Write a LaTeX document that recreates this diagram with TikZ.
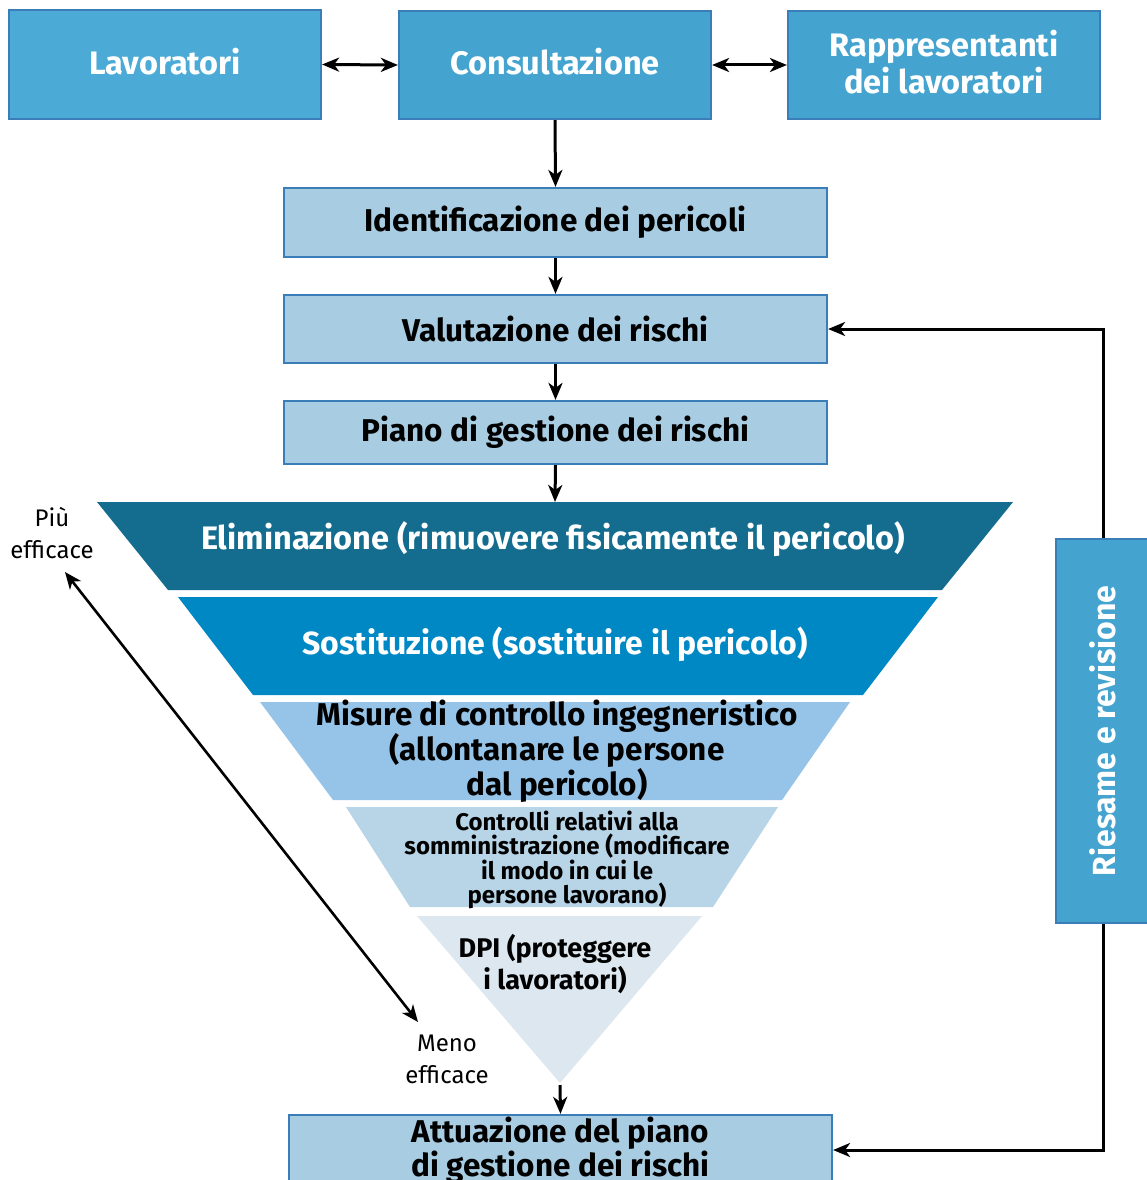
\documentclass[tikz,border=0pt]{standalone}
\usepackage{fontspec}
\setmainfont{Fira Sans}
\usetikzlibrary{arrows.meta,calc}

\definecolor{boxline}{HTML}{3B7DB8}
\definecolor{topfillA}{HTML}{4BABD6}
\definecolor{topfillB}{HTML}{45A4CF}
\definecolor{stepfill}{HTML}{A8CDE3}
\definecolor{lvlE}{HTML}{146D8F}
\definecolor{lvlS}{HTML}{0088C5}
\definecolor{lvlM}{HTML}{95C4E8}
\definecolor{lvlC}{HTML}{B8D5E8}
\definecolor{lvlD}{HTML}{DCE7EF}

\begin{document}
\begin{tikzpicture}[x=1pt,y=-1pt,
  topbox/.style={draw=boxline, line width=2.2pt, fill=topfillB, text=white,
    font=\fontsize{32.5}{37}\selectfont\bfseries, align=center, text depth=7pt,
    minimum width=312pt, minimum height=108pt, inner sep=0pt},
  stepbox/.style={draw=boxline, line width=2.2pt, fill=stepfill, text=black,
    font=\fontsize{31.5}{31}\selectfont\bfseries, align=center,
    minimum width=543pt, inner sep=0pt},
  lvltext/.style={align=center, inner sep=0pt},
  sidelabel/.style={align=center, inner sep=0pt, font=\fontsize{24}{32}\selectfont},
  tip/.tip={Stealth[length=17pt,width=14pt,inset=5pt]},
  conn/.style={line width=3pt, -tip},
  dconn/.style={line width=3pt, tip-tip}
]
\useasboundingbox (0,0) rectangle (1146,1180);
\fill[white] (0,0) rectangle (1146,1180);

% consultation row
\node[topbox, fill=topfillA, minimum height=109pt] (lav) at (165,64.5) {Lavoratori};
\node[topbox] (cons) at (555,65) {Consultazione};
\node[topbox] (rapp) at (944,65) {Rappresentanti\\dei lavoratori};

% process steps
\node[stepbox, minimum height=69pt] (ident) at (555.5,222.5) {Identificazione dei pericoli};
\node[stepbox, minimum height=68pt] (valut) at (555.5,329) {Valutazione dei rischi};
\node[stepbox, minimum height=63pt] (piano) at (555.5,432.5) {Piano di gestione dei rischi};
\node[stepbox, minimum height=70pt] (attua) at (560.5,1150) {Attuazione del piano\\di gestione dei rischi};

% hierarchy of controls (inverted pyramid)
\fill[lvlE] (97,502) -- (1013,502) -- (942,590) -- (168,590) -- cycle;
\fill[lvlS] (178,597) -- (938,597) -- (863,695) -- (253,695) -- cycle;
\fill[lvlM] (260,702) -- (850,702) -- (782,800) -- (333,800) -- cycle;
\fill[lvlC] (346,807) -- (778,807) -- (713,907) -- (410,907) -- cycle;
\fill[lvlD] (417,916) -- (702,916) -- (560,1083) -- cycle;
\coordinate (elimTop) at (555,502);
\coordinate (dpiTip) at (560,1085);

\node[lvltext, text=white, font=\fontsize{32.5}{31}\selectfont\bfseries] (elim) at (553,539)
  {Eliminazione (rimuovere fisicamente il pericolo)};
\node[lvltext, text=white, font=\fontsize{32}{31}\selectfont\bfseries] (sost) at (555,644)
  {Sostituzione (sostituire il pericolo)};
\node[lvltext, font=\fontsize{31.5}{31.5}\selectfont\bfseries] (misure) at (557,751)
  {Misure di controllo ingegneristico\\(allontanare le persone\\dal pericolo)};
\node[lvltext, font=\fontsize{24}{24.5}\selectfont\bfseries] (contr) at (567,860)
  {Controlli relativi alla\\somministrazione (modificare\\il modo in cui le\\persone lavorano)};
\node[lvltext, font=\fontsize{27}{32}\selectfont\bfseries] (dpi) at (555,964)
  {DPI (proteggere\\i lavoratori)};

% effectiveness scale
\node[sidelabel] (piu) at (52,533) {Più\\efficace};
\node[sidelabel] (meno) at (447,1059) {Meno\\efficace};
\coordinate (piuEnd) at (65,572);
\coordinate (menoEnd) at (418,1022);
\draw[dconn, line width=2.6pt] (piuEnd) -- (menoEnd);

% review box
\node[draw=boxline, line width=2.2pt, fill=topfillB,
  minimum width=94pt, minimum height=384pt, inner sep=0pt] (ries) at (1103,731) {};
\node[rotate=90, text=white, font=\fontsize{32}{31}\selectfont\bfseries] (riestext) at (1103,731) {Riesame e revisione};

% connectors
\draw[dconn] (lav.east) -- (cons.west);
\draw[dconn] (cons.east) -- (rapp.west);
\draw[conn] (cons.south) -- (ident.north);
\draw[conn] (ident.south) -- (valut.north);
\draw[conn] (valut.south) -- (piano.north);
\draw[conn] (piano.south) -- (elimTop);
\draw[conn] (dpiTip) -- (attua.north);
\draw[conn] (ries.north) |- (valut.east);
\draw[conn] (ries.south) |- (attua.east);
\end{tikzpicture}
\end{document}
